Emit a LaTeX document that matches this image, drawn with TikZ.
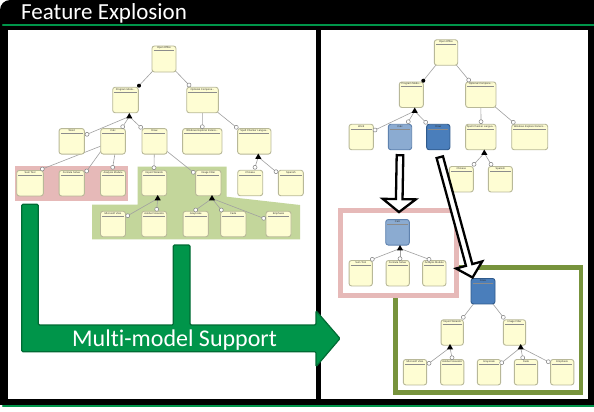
\documentclass[tikz,border=0pt]{standalone}
\usepackage{fontspec}
\setmainfont{Liberation Sans}
\newfontfamily\titlefont[Ligatures={NoCommon}]{Carlito}
\usetikzlibrary{shapes.geometric,calc}
\pgfdeclarelayer{back}
\pgfdeclarelayer{mid}
\pgfdeclarelayer{front}
\pgfsetlayers{back,mid,main,front}
\definecolor{fyel}{HTML}{FEFDD3}
\definecolor{fbord}{HTML}{B8B898}
\definecolor{lblue}{HTML}{8BABD1}
\definecolor{lbluebord}{HTML}{5F82AE}
\definecolor{dblue}{HTML}{4A7EBB}
\definecolor{dbluebord}{HTML}{2F5A8C}
\definecolor{mgreen}{HTML}{00954A}
\definecolor{mgreendark}{HTML}{006B34}
\definecolor{pinkr}{HTML}{E6B9B8}
\definecolor{greenr}{HTML}{C3D69B}
\definecolor{olive}{HTML}{77933C}
\definecolor{connc}{HTML}{A0A0A0}
\tikzset{
  featbox/.style={draw=fbord, fill=fyel, rounded corners=2.5pt, line width=0.9pt, minimum height=25.5pt, inner sep=0pt},
  calcb/.style={fill=lblue, draw=lbluebord},
  drawb/.style={fill=dblue, draw=dbluebord},
  flabel/.style={anchor=north, font=\fontsize{2.6}{3}\selectfont, inner sep=0pt, text=black!80},
  fsep/.style={draw=black!45, line width=0.35pt},
  conn/.style={draw=connc, line width=0.6pt},
  ocirc/.style={circle, draw=gray, fill=white, line width=0.5pt, minimum size=4pt, inner sep=0pt},
  bdot/.style={circle, fill=black, minimum size=4pt, inner sep=0pt},
  tri/.style={regular polygon, regular polygon sides=3, fill=black, minimum size=7pt, inner sep=0pt},
  harrow/.style={draw=black, fill=white, line width=2.3pt, line join=miter},
  bigarrow/.style={fill=mgreen, draw=mgreendark, line width=1.2pt, rounded corners=1.2pt},
  titletext/.style={text=white, inner sep=0pt, font=\titlefont\fontsize{23}{26}\selectfont},
}
\newcommand\feat[6]{%
  \node[featbox,minimum width=#4pt,#6] (#1) at (#2,#3) {};
  \node[flabel] (#1-t) at ([yshift=-1.3pt]#1.north) {#5};
  \draw[fsep] ([xshift=2pt,yshift=-5pt]#1.north west) -- ([xshift=-2pt,yshift=-5pt]#1.north east);
}
\begin{document}
\begin{tikzpicture}[x=1pt,y=-1pt]
\useasboundingbox (0,0) rectangle (594,412);
\begin{pgfonlayer}{back}
  \fill[white] (0,0) rectangle (594,412);
  \fill[black,rounded corners=10pt] (0,0) rectangle (594,404.5);
  \fill[black] (20,0) rectangle (594,404.5);
  \fill[black] (0,20) rectangle (594,404.5);
  \draw[mgreen, line width=2.3pt, line cap=round] (3,25) -- (594,25);
  \draw[mgreen, line width=2.3pt, line cap=round] (3,406.3) -- (594,406.3);
  % panels
  \fill[white] (8,30) rectangle (316,399);
  \fill[white] (321,30) rectangle (588,399);
  % left regions
  \fill[pinkr] (15,166) rectangle (127.7,200.7);
  \fill[greenr] (137.7,166.7) -- (226.5,166.7) -- (226.5,196.7) -- (300,205) -- (300,239.3)
     -- (92,239.3) -- (92,204.5) -- (137.7,204.5) -- cycle;
  % right frames
  \draw[olive, line width=4.6pt] (395.6,267.3) rectangle (581,392.7);
  \draw[pinkr, fill=white, line width=5pt] (340.8,210.8) rectangle (456.8,295.8);
\end{pgfonlayer}

\node[titletext, anchor=base west] (title) at (21,19.5) {Feature Explosion};

% ---------------- left tree ----------------
\feat{LOO}{164}{59}{24}{Open Office}{minimum height=26pt}
\feat{LPM}{125.5}{100}{25.6}{Program Modu...}{}
\feat{LOC}{202.5}{100}{31.6}{Optional Compone...}{}
\feat{LWo}{71.7}{141.3}{25.3}{Word}{}
\feat{LCa}{113}{141.3}{24.6}{Calc}{}
\feat{LDr}{154.5}{141.3}{25}{Draw}{}
\feat{LWE}{202.3}{141.3}{39.3}{Windows Explorer Extens...}{}
\feat{LSC}{254.3}{141.3}{33.3}{Spell Checker Langua...}{}
\feat{LST}{30}{183.2}{26.6}{Sum Tool}{}
\feat{LFS}{71.7}{183.2}{25.3}{Formula Solver}{}
\feat{LAM}{113}{183.2}{25}{Analysis Module}{}
\feat{LIW}{154.2}{183}{25}{Import Wizards}{}
\feat{LIF}{208.3}{183}{25.3}{Image Filter}{}
\feat{LCh}{250.2}{183}{25}{Chinese}{}
\feat{LSp}{290.8}{183}{25}{Spanish}{}
\feat{LMV}{113}{224}{25}{Microsoft Visio}{}
\feat{LAF}{154.2}{224}{25}{Adobe Fireworks}{}
\feat{LGr}{195.7}{224}{25.3}{Grayscale}{}
\feat{LFa}{233.3}{224}{25.3}{Fade}{}
\feat{LEm}{278.5}{224}{25}{Emphasis}{}

\node[bdot] (ld1) at (139,85.7) {};
\node[ocirc] (lc1) at (189,85) {};
\node[tri] (lt1) at (129.3,116.5) {};
\node[ocirc] (lc2) at (87,134.3) {};
\node[ocirc] (lc3) at (122.7,126.7) {};
\node[ocirc] (lc4) at (140.7,127.3) {};
\node[ocirc] (lc5) at (202.3,126.7) {};
\node[ocirc] (lc6) at (236.3,127.3) {};
\node[ocirc] (lc7) at (42.3,169) {};
\node[ocirc] (lc8) at (86.7,171) {};
\node[ocirc] (lc9) at (112.7,167.3) {};
\node[ocirc] (lc10) at (154,167.7) {};
\node[ocirc] (lc11) at (193.3,172.3) {};
\node[tri] (lt2) at (258.3,157) {};
\node[ocirc] (lc12) at (255,167.3) {};
\node[ocirc] (lc13) at (276,171.7) {};
\node[tri] (lt3) at (157.7,198.5) {};
\node[ocirc] (lc14) at (127.7,215.7) {};
\node[ocirc] (lc15) at (156.7,209.3) {};
\node[tri] (lt4) at (212,198.5) {};
\node[ocirc] (lc16) at (195.7,210) {};
\node[ocirc] (lc17) at (221.3,210) {};
\node[ocirc] (lc18) at (263.7,218.3) {};

% ---------------- right tree ----------------
\feat{ROO}{446}{52.5}{23.4}{Open Office}{}
\feat{RPM}{411.3}{94.7}{24}{Program Modu...}{}
\feat{ROC}{480.8}{94.7}{30.3}{Optional Compone...}{}
\feat{RWo}{361.2}{137}{24.3}{Word}{}
\feat{RCa}{400}{137}{23.4}{Calc}{calcb}
\feat{RDr}{438.3}{137}{23.3}{Draw}{drawb}
\feat{RSC}{480.8}{137}{30.3}{Spell Checker Langua...}{}
\feat{RWE}{529.7}{137}{36}{Windows Explorer Extens...}{}
\feat{RCh}{461.3}{179.2}{24}{Chinese}{}
\feat{RSp}{500.3}{179.2}{24}{Spanish}{}

\node[bdot] (rd1) at (423.3,80.7) {};
\node[ocirc] (rc1) at (468.7,80) {};
\node[tri] (rt1) at (414.7,111) {};
\node[ocirc] (rc2) at (375,130) {};
\node[ocirc] (rc3) at (408.3,121.7) {};
\node[ocirc] (rc4) at (425.7,122.3) {};
\node[ocirc] (rc5) at (481,121.7) {};
\node[ocirc] (rc6) at (513.3,122.3) {};
\node[tri] (rt2) at (484.3,153) {};
\node[ocirc] (rc7) at (474,164.3) {};
\node[ocirc] (rc8) at (491,164.3) {};

% pink frame content
\feat{PCa}{397.5}{232.3}{23.6}{Calc}{calcb}
\feat{PST}{360.7}{273.2}{23.3}{Sum Tool}{}
\feat{PFS}{397.7}{273.2}{23.3}{Formula Solver}{}
\feat{PAM}{434.3}{273.2}{23.3}{Analysis Module}{}
\node[tri] (pt1) at (400,248.5) {};
\node[ocirc] (pc1) at (372.3,259.3) {};
\node[ocirc] (pc2) at (400,258.7) {};
\node[ocirc] (pc3) at (429,259.3) {};

% green frame content
\feat{GDr}{483}{291.2}{24}{Draw}{drawb}
\feat{GIW}{452.2}{332.5}{22.3}{Import Wizards}{}
\feat{GIF}{514.5}{332.5}{22.3}{Image Filter}{}
\feat{GMV}{415}{372.2}{23.3}{Microsoft Visio}{}
\feat{GAF}{452.2}{372.2}{23.3}{Adobe Fireworks}{}
\feat{GGr}{489}{372.2}{23.3}{Grayscale}{}
\feat{GFa}{526}{372.2}{23.3}{Fade}{}
\feat{GEm}{562.2}{372.2}{23.3}{Emphasis}{}
\node[ocirc] (gc1) at (463.3,317.3) {};
\node[ocirc] (gc2) at (503.3,317.3) {};
\node[tri] (gt1) at (450,347.5) {};
\node[tri] (gt2) at (520.7,347.5) {};
\node[ocirc] (gc3) at (429,363.3) {};
\node[ocirc] (gc4) at (452,357.7) {};
\node[ocirc] (gc5) at (501.7,362.7) {};
\node[ocirc] (gc6) at (522.7,357.7) {};
\node[ocirc] (gc7) at (548.3,361.7) {};

% ---------------- connectors ----------------
\begin{pgfonlayer}{mid}
  \draw[conn] (LOO.center) -- (ld1.center);
  \draw[conn] (LOO.center) -- (lc1.center);
  \draw[conn] (lt1.center) -- (lc2.center);
  \draw[conn] (lt1.center) -- (lc3.center);
  \draw[conn] (lt1.center) -- (lc4.center);
  \draw[conn] (LOC.center) -- (lc5.center);
  \draw[conn] (LOC.center) -- (lc6.center);
  \draw[conn] (LCa.center) -- (lc7.center);
  \draw[conn] ([xshift=-5pt]LCa.center) -- (lc8.center);
  \draw[conn] ([xshift=4pt]LCa.center) -- (lc9.center);
  \draw[conn] (LDr.center) -- (lc10.center);
  \draw[conn] (LDr.center) -- (lc11.center);
  \draw[conn] (lt2.center) -- (lc12.center);
  \draw[conn] (lt2.center) -- (lc13.center);
  \draw[conn] (lt3.center) -- (lc14.center);
  \draw[conn] (lt3.center) -- (lc15.center);
  \draw[conn] (lt4.center) -- (lc16.center);
  \draw[conn] (lt4.center) -- (lc17.center);
  \draw[conn] (lt4.center) -- (lc18.center);
  \draw[conn] (ROO.center) -- (rd1.center);
  \draw[conn] (ROO.center) -- (rc1.center);
  \draw[conn] (rt1.center) -- (rc2.center);
  \draw[conn] (rt1.center) -- (rc3.center);
  \draw[conn] (rt1.center) -- (rc4.center);
  \draw[conn] (ROC.center) -- (rc5.center);
  \draw[conn] (ROC.center) -- (rc6.center);
  \draw[conn] (rt2.center) -- (rc7.center);
  \draw[conn] (rt2.center) -- (rc8.center);
  \draw[conn] (pt1.center) -- (pc1.center);
  \draw[conn] (pt1.center) -- (pc2.center);
  \draw[conn] (pt1.center) -- (pc3.center);
  \draw[conn] (GDr.center) -- (gc1.center);
  \draw[conn] (GDr.center) -- (gc2.center);
  \draw[conn] (gt1.center) -- (gc3.center);
  \draw[conn] (gt1.center) -- (gc4.center);
  \draw[conn] (gt2.center) -- (gc5.center);
  \draw[conn] (gt2.center) -- (gc6.center);
  \draw[conn] (gt2.center) -- (gc7.center);
\end{pgfonlayer}

% ---------------- front: arrows ----------------
\begin{pgfonlayer}{front}
  \draw[bigarrow] (21.7,204.3) -- (38.3,204.3) -- (38.3,325) -- (173.3,325) -- (173.3,245)
     -- (190,245) -- (190,325) -- (316,325) -- (316,310.7) -- (340,338.5) -- (316,366.7)
     -- (316,351.7) -- (21.7,351.7) -- cycle;
  \node[titletext, anchor=base west, font=\titlefont\fontsize{24}{28}\selectfont] (mms) at (72,346) {Multi-model Support};

  \coordinate (a1) at ([yshift=-5pt]RCa.south);
  \coordinate (b1) at ([xshift=1.5pt,yshift=7pt]PCa.north);
  \coordinate (h1) at ($(b1)!13pt!(a1)$);
  \draw[harrow] ($(a1)!3.3pt!90:(b1)$) -- ($(h1)!3.3pt!90:(b1)$) -- ($(h1)!16.5pt!90:(b1)$) -- (b1)
     -- ($(h1)!16.5pt!-90:(b1)$) -- ($(h1)!3.3pt!-90:(b1)$) -- ($(a1)!3.3pt!-90:(b1)$) -- cycle;

  \coordinate (a2) at ([xshift=1.5pt,yshift=-7pt]RDr.south);
  \coordinate (b2) at ([xshift=2pt,yshift=0.5pt]GDr.north west);
  \coordinate (h2) at ($(b2)!13pt!(a2)$);
  \draw[harrow] ($(a2)!3.3pt!90:(b2)$) -- ($(h2)!3.3pt!90:(b2)$) -- ($(h2)!13.5pt!90:(b2)$) -- (b2)
     -- ($(h2)!13.5pt!-90:(b2)$) -- ($(h2)!3.3pt!-90:(b2)$) -- ($(a2)!3.3pt!-90:(b2)$) -- cycle;
\end{pgfonlayer}
\end{tikzpicture}
\end{document}
